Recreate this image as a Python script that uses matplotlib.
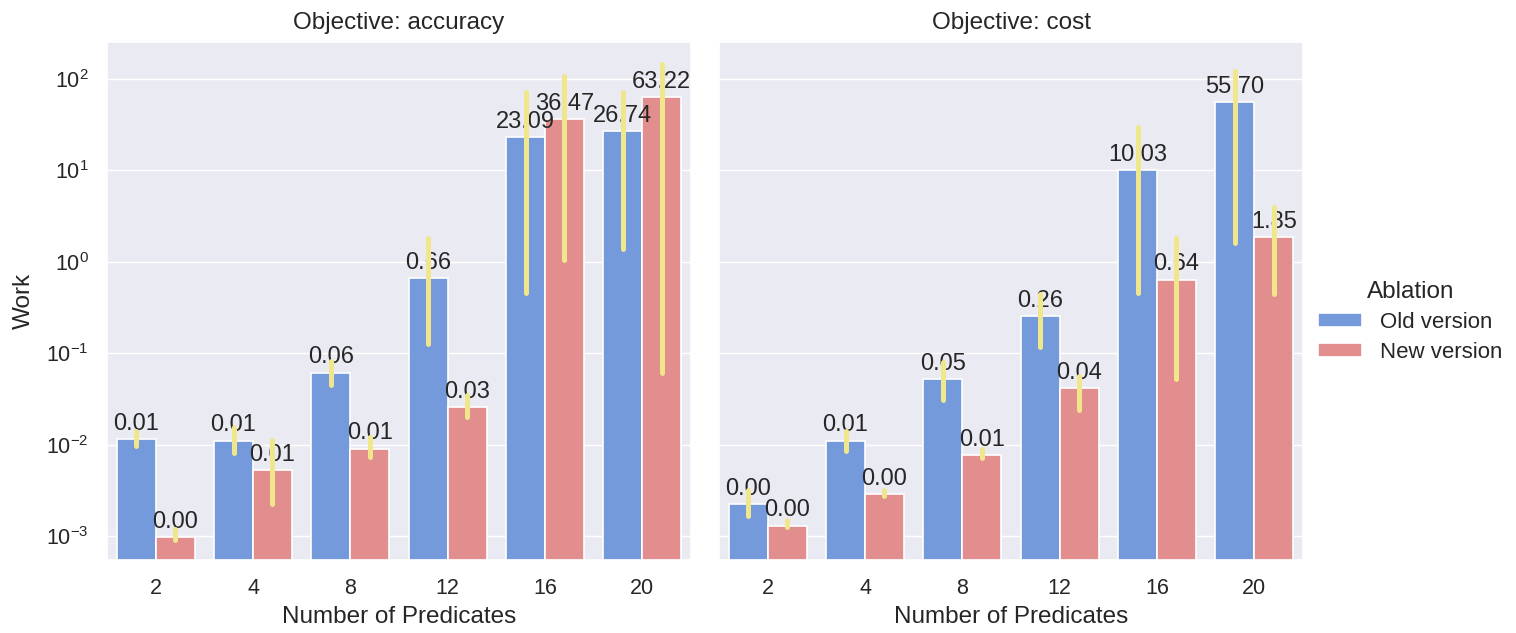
import numpy as np
import matplotlib
matplotlib.use("Agg")
import matplotlib.pyplot as plt
import seaborn as sns

# ---- data -------------------------------------------------------------
predicates = ["2", "4", "8", "12", "16", "20"]
versions = ["Old version", "New version"]
objectives = ["accuracy", "cost"]

acc_old = [0.0115, 0.0111, 0.0615, 0.66, 23.09, 26.74]
acc_new = [0.00097, 0.00528, 0.0091, 0.026, 36.47, 63.22]
acc_old_lo = [0.0098, 0.0082, 0.0455, 0.126, 0.46, 1.38]
acc_old_hi = [0.0142, 0.0158, 0.083, 1.80, 71.6, 71.6]
acc_new_lo = [0.00091, 0.00227, 0.0073, 0.020, 1.06, 0.0605]
acc_new_hi = [0.0012, 0.0113, 0.0123, 0.035, 107.0, 147.0]

cost_old = [0.00226, 0.0111, 0.052, 0.256, 10.03, 55.70]
cost_new = [0.00131, 0.00289, 0.0077, 0.042, 0.64, 1.85]
cost_old_lo = [0.00165, 0.0085, 0.0305, 0.116, 0.46, 1.59]
cost_old_hi = [0.00322, 0.0142, 0.080, 0.45, 29.8, 122.0]
cost_new_lo = [0.00125, 0.00273, 0.0071, 0.024, 0.053, 0.44]
cost_new_hi = [0.00151, 0.00322, 0.0090, 0.057, 1.80, 4.0]

panels = {
    "accuracy": [(acc_old, acc_old_lo, acc_old_hi), (acc_new, acc_new_lo, acc_new_hi)],
    "cost": [(cost_old, cost_old_lo, cost_old_hi), (cost_new, cost_new_lo, cost_new_hi)],
}

# ---- style ------------------------------------------------------------
sns.set_theme(style="darkgrid")
plt.rcParams["font.family"] = ["Liberation Sans", "DejaVu Sans"]
palette = sns.color_palette(["cornflowerblue", "lightcoral"], desat=0.75)
err_color = "khaki"

fig = plt.figure(figsize=(15.16, 6.33), dpi=100)
W, H = 1516, 633
ax_l = fig.add_axes([107 / W, 1 - 560 / H, 584 / W, 518 / H])
ax_r = fig.add_axes([719 / W, 1 - 560 / H, 584 / W, 518 / H], sharey=ax_l)

x = np.arange(len(predicates))
width = 0.8 / len(versions)

for ax, obj in zip([ax_l, ax_r], objectives):
    for i, (vals, lo, hi) in enumerate(panels[obj]):
        offs = x - 0.4 + width * (i + 0.5)
        bars = ax.bar(offs, vals, width=width, color=palette[i],
                      edgecolor="white", linewidth=1.2, label=versions[i],
                      zorder=2)
        ax.vlines(offs, lo, hi, color=err_color, linewidth=3.6,
                  capstyle="round", zorder=5)
        ax.bar_label(bars, fmt="%.2f", padding=3, fontsize=17,
                     color="#262626", zorder=4)
    ax.set_yscale("log")
    ax.set_xticks(x)
    ax.set_xticklabels(predicates)
    ax.set_xlim(-0.5, len(predicates) - 0.5)
    ax.grid(axis="x", visible=False)
    ax.grid(axis="y", which="minor", visible=False)
    ax.tick_params(axis="both", labelsize=15.5, pad=7)
    ax.set_title(f"Objective: {obj}", fontsize=17.5, pad=9)
    ax.set_xlabel("Number of Predicates", fontsize=17.5, labelpad=5)

ax_l.set_ylim(5.5e-4, 253)
ax_l.set_ylabel("Work", fontsize=17.5, labelpad=8)
ax_r.tick_params(axis="y", labelleft=False)
ax_r.yaxis.set_minor_locator(matplotlib.ticker.NullLocator())
ax_l.yaxis.set_minor_locator(matplotlib.ticker.NullLocator())

handles, labels = ax_l.get_legend_handles_labels()
leg = fig.legend(handles, labels, title="Ablation", loc="center left",
                 bbox_to_anchor=(1298 / W, 1 - 322 / H), frameon=False,
                 fontsize=16, title_fontsize=17.5, handlelength=2.0,
                 handleheight=0.6, handletextpad=0.8, labelspacing=0.4)

fig.savefig("out.png", dpi=100)
